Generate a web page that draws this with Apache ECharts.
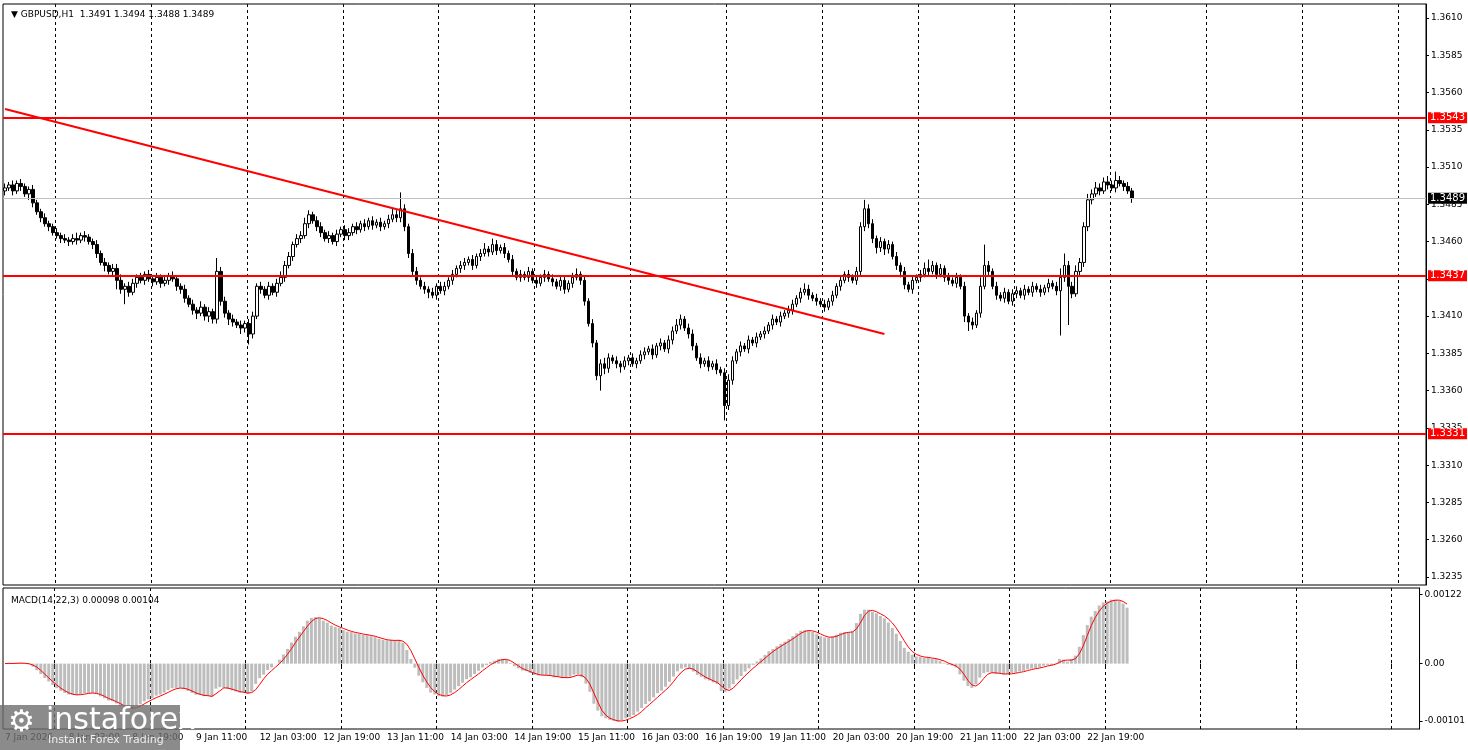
<!DOCTYPE html>
<html><head><meta charset="utf-8">
<script src="https://cdn.jsdelivr.net/npm/echarts@6/dist/echarts.min.js"></script>
<style>html,body{margin:0;padding:0;background:#fff}#c{width:1468px;height:750px}</style>
</head><body><div id="c"></div>
<script>
// prices in pips relative to 1.3400
const BASE = 1.3400;
const closesPips = [
 96,98,94,99,97,92,95,
 86,80,76,72,70,66,
 64,62,61,60,62,61,64,63,60,58,
 52,46,44,40,42,
 34,28,30,26,32,36,
 34,38,35,33,36,32,34,37,35,30,28,
 22,18,14,12,16,10,13,8,
 40,20,
 12,8,6,4,2,5,
 -2,10,30,
 28,24,30,26,32,36,
 44,50,58,62,64,
 72,78,74,70,
 66,62,64,60,65,68,64,
 66,70,68,72,70,74,71,73,70,72,75,78,76,
 82,70,52,40,
 34,30,28,26,24,30,27,
 30,34,38,42,44,
 46,48,44,50,52,55,53,58,54,56,
 52,48,40,36,
 38,36,40,34,32,36,38,35,33,30,34,
 28,32,36,38,34,
 20,5,-8,-30,
 -22,-25,
 -18,-20,-22,-24,-20,-18,-22,-20,-16,
 -14,-12,-16,-10,-8,-12,-6,
 0,4,8,2,-2,
 -10,-18,-22,-20,-24,-22,-26,-28,
 -50,-33,
 -20,-14,-10,-12,-6,-8,-4,-2,
 0,4,8,6,10,12,14,
 18,22,26,28,24,22,20,18,16,20,
 24,30,34,38,36,34,40,
 70,82,72,
 62,56,60,55,
 58,50,44,40,
 31,28,34,36,
 38,42,40,44,38,42,36,
 34,32,36,30,
 10,6,4,12,
 30,44,40,30,
 24,22,26,20,25,
 27,24,28,26,30,28,26,29,32,30,27,
 36,44,
 30,25,40,46,
 70,88,
 92,96,94,100,98,96,101,99,97,94,89
];
const firstOpenPips = 94;
const wickUpPips = [
 3,2,3,2,3,2,2, 3,2,2,3,2,2, 3,2,3,2,3,4,2,3,2,2, 3,2,3,2,3, 3,4,2,3,3,2,
 3,2,3,2,3,2,3,2,3,2,2, 3,2,3,2,4,2,3,2, 9,3, 3,2,3,2,3,2, 3,3,2, 3,2,3,2,3,4,
 3,3,2,3,3, 4,3,2,3, 3,2,3,2,3,2,3, 3,2,3,2,3,2,3,2,3,2,3,4,3, 11,3,2,3,
 3,2,3,2,3,2,3, 3,2,3,2,3, 3,2,3,2,3,4,2,4,3,2, 3,2,3,2, 3,2,3,2,3,2,3,2,3,2,3,
 3,2,3,4,2, 3,2,3,2, 3,4, 3,2,3,2,3,2,3,2,3, 3,2,3,2,3,2,3, 3,4,3,2,3,
 3,2,3,2,3,2,3,2, 3,4, 3,2,3,2,3,2,3,2, 3,2,3,2,3,2,3, 3,2,3,4,3,2,3,2,3,2,
 3,2,3,2,3,2,3, 3,6,3, 3,2,3,2, 3,2,3,2, 3,2,3,2, 3,4,6,3,2,3,2, 3,2,3,2,
 3,2,3,2, 6,14,3,2, 3,2,3,2,3, 3,2,3,2,3,2,3,2,3,2,3, 6,8, 3,3,4,3, 3,4,
 3,4,3,3,4,3,6,3,2,3,2
];
const wickDnPips = [
 3,2,3,2,3,2,4, 3,2,3,2,3,2, 2,3,2,3,2,3,2,3,2,3, 3,2,4,2,3, 6,3,10,3,2,3,
 2,3,2,3,2,3,2,3,2,3,3, 3,2,3,4,2,3,4,3, 3,3, 3,4,3,2,4,3, 7,3,2, 3,2,3,2,3,2,
 3,2,3,2,3, 2,3,2,3, 3,2,3,2,3,2,3, 3,2,3,2,3,2,3,2,3,2,3,2,3, 3,3,3,3,
 3,2,3,4,2,3,2, 3,2,3,2,3, 3,2,3,2,3,2,3,2,3,2, 3,2,3,2, 3,2,3,2,3,2,3,2,3,2,3,
 3,2,3,2,3, 3,2,3,3, 10,4, 3,2,3,4,2,3,2,3,2, 3,2,3,2,3,2,3, 3,2,3,2,3,
 3,2,3,2,3,2,3,2, 10,3, 3,2,3,2,3,2,3,2, 3,2,3,2,3,2,3, 3,2,3,2,3,2,3,2,3,2,
 3,2,3,2,3,2,3, 3,3,3, 3,4,3,4, 3,2,3,4, 3,2,3,2, 3,2,3,2,3,2,3, 3,2,3,2,
 4,6,3,2, 3,2,3,2, 3,2,3,2,3, 3,2,3,2,3,2,3,2,3,2,3, 30,3, 26,3,2,3, 3,3,
 3,2,3,2,3,2,3,2,3,2,3
];
const levels = [1.3543, 1.3437, 1.3331];
const lastPrice = 1.3489;
const trendLine = [[0, 1.3549], [220, 1.3398]];
const priceTicks = [1.3235,1.3260,1.3285,1.3310,1.3335,1.3360,1.3385,1.3410,1.3435,1.3460,1.3485,1.3510,1.3535,1.3560,1.3585,1.3610];
const macdTicks = [-0.00101, 0, 0.00122];
const TOTAL_SLOTS = 356;
const LAST_LABEL_INDEX = 272;

const months = ['Jan','Feb'];
const cats = [];
{
  let d = new Date(Date.UTC(2026,0,7,11));
  while (cats.length < TOTAL_SLOTS) {
    const wd = d.getUTCDay();
    if (wd !== 0 && wd !== 6) {
      const hh = String(d.getUTCHours()).padStart(2,'0');
      cats.push(cats.length === 0 ? '7 Jan 2026' : d.getUTCDate()+' '+months[d.getUTCMonth()]+' '+hh+':00');
    }
    d = new Date(d.getTime()+3600000);
  }
}
const p = v => +(BASE + v/10000).toFixed(4);
const ohlc = [];
let prev = firstOpenPips;
closesPips.forEach((c,i) => {
  const o = prev;
  const hi = Math.max(o,c) + wickUpPips[i];
  const lo = Math.min(o,c) - wickDnPips[i];
  ohlc.push([p(o), p(c), p(lo), p(hi)]);
  prev = c;
});
const closes = closesPips.map(p);
function ema(arr,n){const k=2/(n+1);let e=arr[0];return arr.map(v=>(e=v*k+e*(1-k)));}
const e14 = ema(closes,14), e22 = ema(closes,22);
const macd = closes.map((_,i)=>e14[i]-e22[i]);
const signal = macd.map((_,i)=>{const s=macd.slice(Math.max(0,i-2),i+1);return s.reduce((a,b)=>a+b,0)/s.length;});

const gridIdx = i => (i-13)%24===0 && i>=13;
const labIdx = i => i%16===0 && i<=LAST_LABEL_INDEX;
const font = 'DejaVu Sans';
const xBase = {
  type:'category', data:cats, boundaryGap:true,
  axisLine:{show:false},
  axisTick:{show:false},
  splitLine:{show:true, interval:(i)=>gridIdx(i), lineStyle:{color:'#000', type:[3,3], width:1}}
};
const chart = echarts.init(document.getElementById('c'));
const lvlLabel = (bg) => ({show:true, position:'end', distance:2, formatter:q=>Number(q.value).toFixed(4), color:'#fff', backgroundColor:bg, padding:[1,2,0,2], fontSize:10, fontFamily:font});
chart.setOption({
  animation:false,
  backgroundColor:'#fff',
  textStyle:{fontFamily:font},
  title:[
    {text:'▼ GBPUSD,H1  1.3491 1.3494 1.3488 1.3489', left:6, top:5, textStyle:{fontSize:9, fontWeight:'normal', color:'#000', fontFamily:font}},
    {text:'MACD(14,22,3) 0.00098 0.00104', left:6, top:591, textStyle:{fontSize:9, fontWeight:'normal', color:'#000', fontFamily:font}}
  ],
  grid:[
    {left:3, right:42, top:4, height:581, show:true, borderColor:'#000', borderWidth:1},
    {left:3, right:42, top:588, height:141, show:true, borderColor:'#000', borderWidth:1}
  ],
  xAxis:[
    Object.assign({gridIndex:0, axisLabel:{show:false}}, xBase),
    Object.assign({gridIndex:1, axisLabel:{show:true, interval:(i)=>labIdx(i), align:'left', margin:4, fontSize:9, color:'#000', fontFamily:font}}, xBase,
      {axisTick:{show:true, interval:(i)=>gridIdx(i), length:3, lineStyle:{color:'#000'}}})
  ],
  yAxis:[
    {gridIndex:0, type:'value', position:'right', min:1.32296, max:1.36194, scale:true,
     axisLine:{show:true, lineStyle:{color:'#000'}}, splitLine:{show:false},
     axisTick:{show:true, length:3, customValues:priceTicks, lineStyle:{color:'#000'}},
     axisLabel:{customValues:priceTicks, formatter:v=>v.toFixed(4), fontSize:9, color:'#000', margin:5, fontFamily:font}},
    {gridIndex:1, type:'value', position:'right', min:-0.00115, max:0.00133,
     axisLine:{show:true, lineStyle:{color:'#000'}}, splitLine:{show:false},
     axisTick:{show:true, length:3, customValues:macdTicks, lineStyle:{color:'#000'}},
     axisLabel:{customValues:macdTicks, formatter:v=>v===0?'0.00':v.toFixed(5), fontSize:9, color:'#000', margin:5, fontFamily:font}}
  ],
  series:[
    {type:'candlestick', xAxisIndex:0, yAxisIndex:0, data:ohlc, barWidth:3,
     itemStyle:{color:'#fff', color0:'#000', borderColor:'#000', borderColor0:'#000', borderWidth:1},
     markLine:{silent:true, symbol:'none', animation:false, precision:4,
      data:[
        {yAxis:lastPrice, lineStyle:{color:'#c0c0c0', width:1, type:'solid'}, label:lvlLabel('#000')},
        ...levels.map(v=>({yAxis:v, lineStyle:{color:'#ff0000', width:2, type:'solid'}, label:lvlLabel('#ff0000')})),
        [{coord:trendLine[0], lineStyle:{color:'#ff0000', width:2, type:'solid'}, label:{show:false}}, {coord:trendLine[1]}]
      ]}
    },
    {type:'bar', xAxisIndex:1, yAxisIndex:1, data:macd, barWidth:3, itemStyle:{color:'#bdbdbd'}},
    {type:'line', xAxisIndex:1, yAxisIndex:1, data:signal, showSymbol:false, lineStyle:{color:'#ff0000', width:1}}
  ],
  graphic:[
    {type:'rect', shape:{x:0,y:705,width:180,height:45}, style:{fill:'rgba(110,110,110,0.8)'}, z:100},
    {type:'text', x:8, y:708, style:{text:'⚙', fill:'#fff', font:'bold 30px DejaVu Sans'}, z:101},
    {type:'text', x:46, y:706, style:{text:'instaforex', fill:'#fff', font:'30px "DejaVu Sans"'}, z:101},
    {type:'text', x:48, y:735, style:{text:'Instant Forex Trading', fill:'#eee', font:'11px "DejaVu Sans"'}, z:101}
  ]
});
</script></body></html>
